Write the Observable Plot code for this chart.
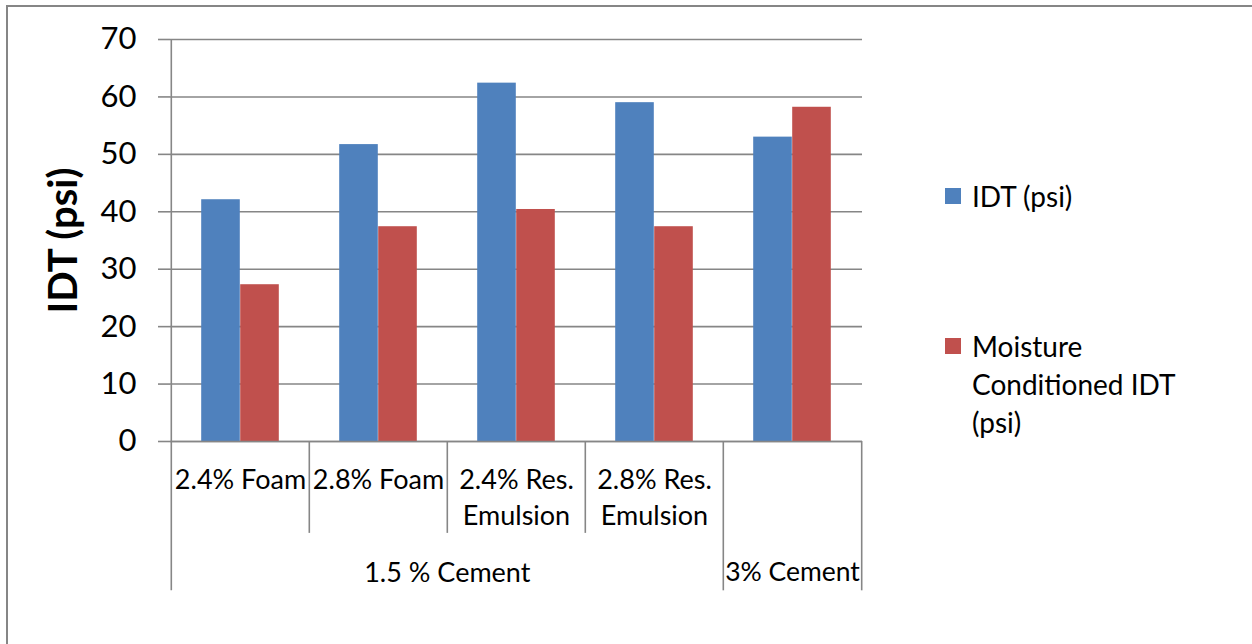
<!DOCTYPE html>
<html>
<head>
<meta charset="utf-8">
<script src="https://cdn.jsdelivr.net/npm/d3@7"></script>
<script src="https://cdn.jsdelivr.net/npm/@observablehq/plot@0.6"></script>
<style>
  body { margin: 0; background: #fff; font-family: Lato, "Open Sans", sans-serif; }
  #wrap { position: relative; width: 1252px; height: 644px; overflow: hidden; background: #fff; }
  #border { position: absolute; left: 6px; top: 5px; width: 1400px; height: 800px;
            border-top: 2px solid #868686; border-left: 2px solid #868686; }
  #chart { position: absolute; left: 0; top: 0; }
  .leg { position: absolute; left: 945px; font-size: 28px; line-height: 38px; color: #000; }
  .leg .sw { position: absolute; left: 0; top: 11px; width: 16px; height: 16px; }
  .leg .tx { position: absolute; left: 27px; top: 0; white-space: nowrap; }
</style>
</head>
<body>
<div id="wrap">
  <div id="border"></div>
  <div id="chart"></div>
  <div id="legend"></div>
</div>
<script>
// ---- data ----
const categories = ["2.4% Foam", "2.8% Foam", "2.4% Res. Emulsion", "2.8% Res. Emulsion", "3% Cement"];
const subLabels = ["2.4% Foam", "2.8% Foam", "2.4% Res.\nEmulsion", "2.8% Res.\nEmulsion", ""];
const groupLabels = ["1.5 % Cement", "3% Cement"];
const groupOf = ["1.5 % Cement", "1.5 % Cement", "1.5 % Cement", "1.5 % Cement", "3% Cement"];
const idtValues = [42.1, 51.7, 62.4, 59.0, 53.0];
const moistureValues = [27.3, 37.4, 40.4, 37.4, 58.2];
const seriesNames = ["IDT (psi)", "Moisture Conditioned IDT (psi)"];
const seriesLegendLines = [["IDT (psi)"], ["Moisture", "Conditioned IDT", "(psi)"]];
const seriesColors = ["#4F81BD", "#C0504D"];
const yTicks = [0, 10, 20, 30, 40, 50, 60, 70];
const yLabel = "IDT (psi)";

// ---- layout ----
const W = 1252, H = 644;
const mL = 170, mR = 390, mT = 39, mB = 203;
const bw = (W - mL - mR) / categories.length;
const barW = 39;
const gap = (bw - 2 * barW) / 2;
const grey = "#868686";

const rows = categories.map((c, i) => ({
  category: c, sub: subLabels[i], group: groupOf[i],
  idt: idtValues[i], moist: moistureValues[i]
}));

// first and last category index of each group
const groupSpans = groupLabels.map(g => {
  const idx = categories.map((c, i) => i).filter(i => groupOf[i] === g);
  return {group: g, first: idx[0], last: idx[idx.length - 1]};
});

const plot = Plot.plot({
  width: W, height: H,
  marginLeft: mL, marginRight: mR, marginTop: mT, marginBottom: mB,
  style: {fontFamily: "Lato, 'Open Sans', sans-serif", background: "transparent", overflow: "visible"},
  x: {type: "band", domain: categories, paddingInner: 0, paddingOuter: 0, axis: null},
  y: {domain: [0, 70], axis: null},
  marks: [
    Plot.gridY(yTicks, {stroke: grey, strokeOpacity: 1, strokeWidth: 1.6}),
    Plot.axisY(yTicks, {tickSize: 12, tickPadding: 22, fontSize: 31, stroke: grey, strokeWidth: 1.6, fill: "#000", label: null}),
    Plot.barY(rows, {x: "category", y: "idt", fill: seriesColors[0], insetLeft: gap, insetRight: gap + barW}),
    Plot.barY(rows, {x: "category", y: "moist", fill: seriesColors[1], insetLeft: gap + barW, insetRight: gap}),
    Plot.ruleY([0], {stroke: grey, strokeWidth: 1.6}),
    // y axis line extended down to the bottom of the category table
    Plot.ruleX([categories[0]], {x: d => d, dx: -bw / 2, y1: 70, y2: -26, stroke: grey, strokeWidth: 1.6}),
    // inner separators between sub-categories of the same group
    Plot.ruleX(rows.filter((r, i) => i > 0 && groupOf[i] === groupOf[i - 1]),
      {x: "category", dx: -bw / 2, y1: 0, y2: -16, stroke: grey, strokeWidth: 1.6}),
    // group separators
    Plot.ruleX(groupSpans.filter(s => s.first > 0), {x: s => categories[s.first], dx: -bw / 2, y1: 0, y2: -26, stroke: grey, strokeWidth: 1.6}),
    Plot.ruleX(groupSpans.slice(-1), {x: s => categories[s.last], dx: bw / 2, y1: 0, y2: -26, stroke: grey, strokeWidth: 1.6}),
    // sub-category labels
    Plot.text(rows, {x: "category", y: 0, text: "sub", lineAnchor: "top", dy: 22, fontSize: 27, lineHeight: 1.33, fill: "#000"}),
    // group labels: even-count group centered on a band boundary, odd-count on a band center
    Plot.text(groupSpans.filter(s => (s.last - s.first + 1) % 2 === 0),
      {x: s => categories[(s.first + s.last + 1) / 2], dx: -bw / 2, y: 0, text: "group", lineAnchor: "top", dy: 121, fontSize: 27, fill: "#000"}),
    Plot.text(groupSpans.filter(s => (s.last - s.first + 1) % 2 === 1),
      {x: s => categories[(s.first + s.last) / 2], y: 0, text: "group", lineAnchor: "top", dy: 121, fontSize: 26.5, fill: "#000"}),
    // y axis title
    Plot.text([yLabel], {frameAnchor: "left", text: d => d, rotate: -90, dx: -106, textAnchor: "middle", fontSize: 40, fontWeight: "bold", fill: "#000"})
  ]
});
document.getElementById("chart").appendChild(plot);

// legend
const legend = document.getElementById("legend");
const legendTops = [177, 327];
seriesNames.forEach((name, i) => {
  const item = document.createElement("div");
  item.className = "leg";
  item.style.top = legendTops[i] + "px";
  item.title = name;
  const sw = document.createElement("div");
  sw.className = "sw";
  sw.style.background = seriesColors[i];
  const tx = document.createElement("div");
  tx.className = "tx";
  tx.innerHTML = seriesLegendLines[i].join("<br>");
  item.appendChild(sw);
  item.appendChild(tx);
  legend.appendChild(item);
});
</script>
</body>
</html>
